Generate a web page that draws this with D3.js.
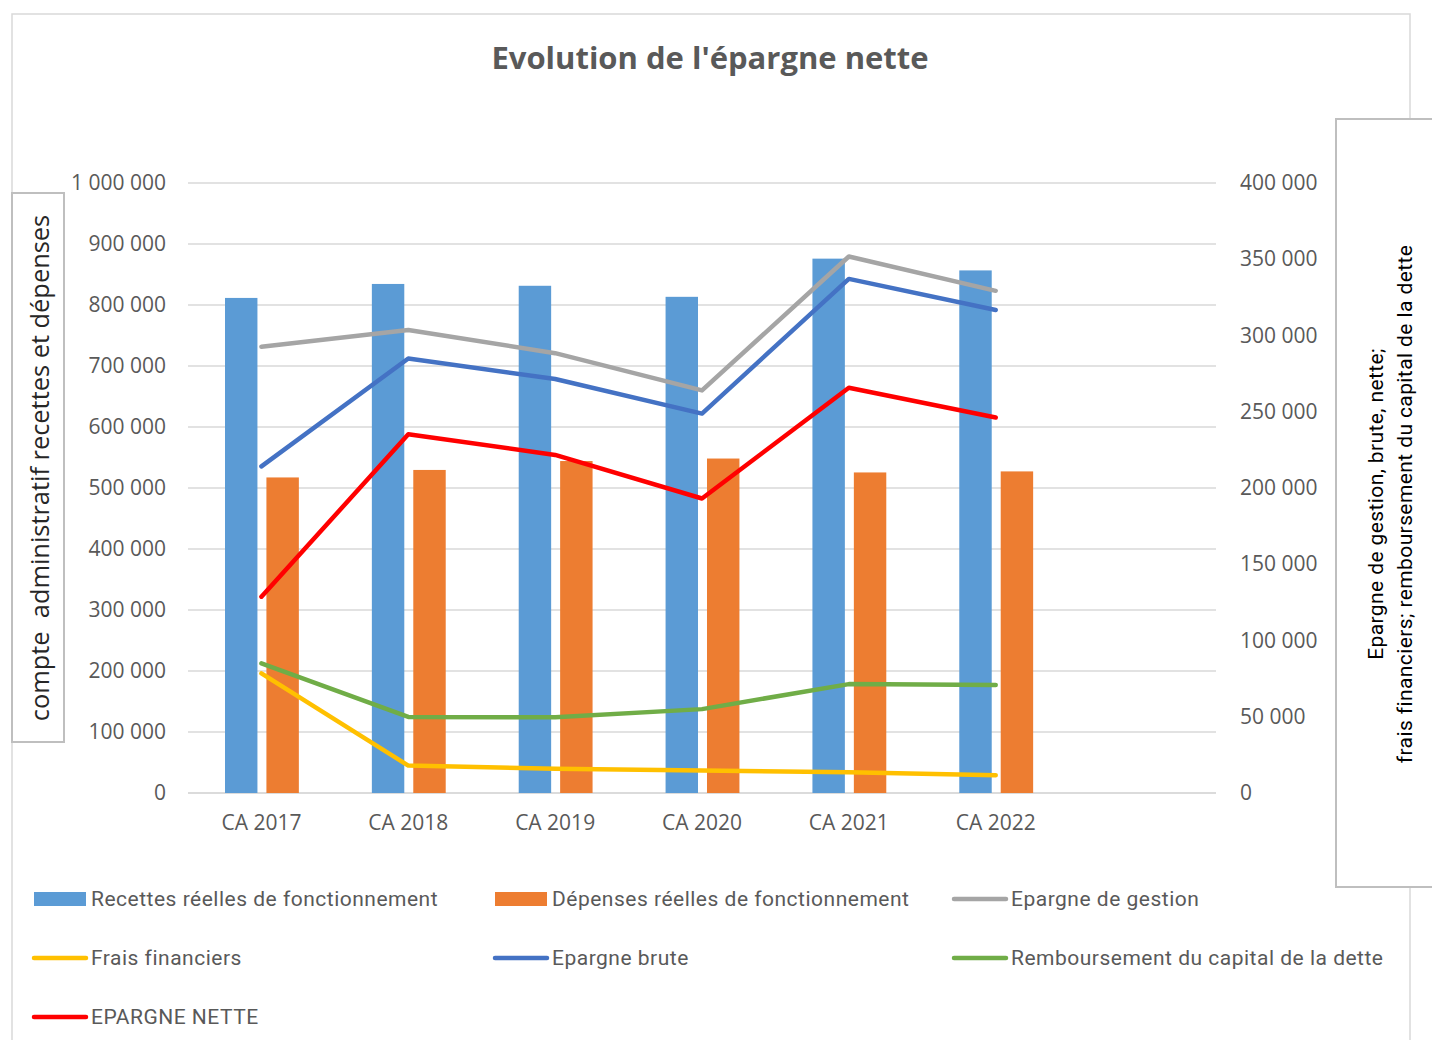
<!DOCTYPE html>
<html>
<head>
<meta charset="utf-8">
<script src="https://cdn.jsdelivr.net/npm/d3@7"></script>
<style>
  html, body { margin: 0; padding: 0; background: #fff; }
  svg { display: block; }
</style>
</head>
<body>
<svg id="chart" width="1432" height="1040"></svg>
<script>
// ---------------- DATA ----------------
const categories = ["CA 2017", "CA 2018", "CA 2019", "CA 2020", "CA 2021", "CA 2022"];
const recettes = [811600, 834500, 831500, 813400, 876000, 856700];
const depenses = [517300, 529600, 544200, 548300, 525500, 527200];
const epargneGestion = [292600, 303600, 288400, 264000, 351800, 329300];
const fraisFinanciers = [78400, 18000, 15900, 14700, 13600, 11700];
const epargneBrute = [214200, 284900, 271500, 248800, 337100, 316700];
const remboursement = [85000, 49900, 49600, 55000, 71400, 70900];
const epargneNette = [128700, 235200, 221700, 193100, 265700, 246200];
const leftTicks = [0, 100000, 200000, 300000, 400000, 500000, 600000, 700000, 800000, 900000, 1000000];
const rightTicks = [0, 50000, 100000, 150000, 200000, 250000, 300000, 350000, 400000];
const barSeries = ["Recettes réelles de fonctionnement", "Dépenses réelles de fonctionnement"];
const lineSeries = ["Epargne de gestion", "Frais financiers", "Epargne brute", "Remboursement du capital de la dette", "EPARGNE NETTE"];
const titleText = "Evolution de l'épargne nette";
const leftAxisTitle = "compte  administratif recettes et dépenses";
const rightAxisTitle = ["Epargne de gestion, brute, nette;", "frais financiers; remboursement du capital de la dette"];

// ---------------- STYLE ----------------
const barColors = ["#5B9BD5", "#ED7D31"];
const lineColors = ["#A5A5A5", "#FFC000", "#4472C4", "#70AD47", "#FF0000"];
const lineValues = [epargneGestion, fraisFinanciers, epargneBrute, remboursement, epargneNette];
const textGray = "#595959";

const plot = { left: 188, right: 1216, top: 183, bottom: 793 };
// Excel-like category axis: 7 slots, the last one empty
const slotCount = 7;
const plotCatRight = plot.left + (plot.right - plot.left) * categories.length / slotCount;

const svg = d3.select("#chart");
const fr = d3.formatLocale({ decimal: ",", thousands: "\u00a0", grouping: [3], currency: ["", " €"] });
const fmt = fr.format(",d");

// outer frame
svg.append("rect").attr("x", 12).attr("y", 14).attr("width", 1398).attr("height", 1100)
  .attr("fill", "#fff").attr("stroke", "#d9d9d9").attr("stroke-width", 1.5);

// title
svg.append("text").attr("x", 710).attr("y", 58).attr("dy", "0.35em")
  .attr("text-anchor", "middle").attr("font-family", "'Open Sans', sans-serif")
  .attr("font-weight", "bold").attr("font-size", 31).attr("fill", textGray).text(titleText);

// scales
const x = d3.scaleBand().domain(categories).range([plot.left, plotCatRight]).padding(0);
const x1 = d3.scaleBand().domain(barSeries).range([37, x.bandwidth() - 36]).paddingInner(0.217).paddingOuter(0);
const yL = d3.scaleLinear().domain([0, 1000000]).range([plot.bottom, plot.top]);
const yR = d3.scaleLinear().domain([0, 400000]).range([plot.bottom, plot.top]);

// gridlines
svg.append("g").selectAll("line").data(leftTicks).join("line")
  .attr("x1", plot.left).attr("x2", plot.right)
  .attr("y1", d => yL(d)).attr("y2", d => yL(d))
  .attr("stroke", "#d9d9d9").attr("stroke-width", 1.3);

const tickFont = g => g.selectAll("text").attr("font-family", "'Open Sans', sans-serif")
  .attr("font-size", 21).attr("fill", textGray);

// left axis
const gL = svg.append("g").attr("transform", `translate(${plot.left},0)`)
  .call(d3.axisLeft(yL).tickValues(leftTicks).tickFormat(fmt).tickSize(0).tickPadding(22));
gL.select(".domain").remove();
tickFont(gL);

// right axis
const gR = svg.append("g").attr("transform", `translate(${plot.right},0)`)
  .call(d3.axisRight(yR).tickValues(rightTicks).tickFormat(fmt).tickSize(0).tickPadding(24));
gR.select(".domain").remove();
tickFont(gR);

// x axis
const gX = svg.append("g").attr("transform", `translate(0,${plot.bottom})`)
  .call(d3.axisBottom(x).tickSize(0).tickPadding(22));
gX.select(".domain").remove();
tickFont(gX);
svg.append("line").attr("x1", plot.left).attr("x2", plot.right)
  .attr("y1", plot.bottom).attr("y2", plot.bottom).attr("stroke", "#d9d9d9").attr("stroke-width", 1.3);

// bars
const barData = [recettes, depenses];
barSeries.forEach((s, si) => {
  svg.append("g").selectAll("rect").data(categories).join("rect")
    .attr("x", (c) => x(c) + x1(s))
    .attr("width", x1.bandwidth())
    .attr("y", (c, i) => yL(barData[si][i]))
    .attr("height", (c, i) => yL(0) - yL(barData[si][i]))
    .attr("fill", barColors[si]);
});

// lines
const lineGen = d3.line().x((d, i) => x(categories[i]) + x.bandwidth() / 2).y(d => yR(d));
lineSeries.forEach((s, si) => {
  svg.append("path").datum(lineValues[si]).attr("d", lineGen)
    .attr("fill", "none").attr("stroke", lineColors[si]).attr("stroke-width", 4.5)
    .attr("stroke-linejoin", "round").attr("stroke-linecap", "round");
});

// left axis title box
svg.append("rect").attr("x", 12).attr("y", 193).attr("width", 52).attr("height", 549)
  .attr("fill", "#fff").attr("stroke", "#bfbfbf").attr("stroke-width", 2);
svg.append("text").attr("transform", "translate(40,468) rotate(-90)")
  .attr("text-anchor", "middle").attr("dy", "0.35em")
  .attr("font-family", "'Open Sans', sans-serif").attr("font-size", 25.4).attr("fill", "#262626")
  .attr("xml:space", "preserve").style("white-space", "pre").text(leftAxisTitle);

// right axis title box
svg.append("rect").attr("x", 1336).attr("y", 119).attr("width", 140).attr("height", 768)
  .attr("fill", "#fff").attr("stroke", "#bfbfbf").attr("stroke-width", 2);
rightAxisTitle.forEach((t, i) => {
  svg.append("text").attr("transform", `translate(${1376 + i * 29},504) rotate(-90)`)
    .attr("text-anchor", "middle").attr("dy", "0.35em")
    .attr("font-family", "Roboto, sans-serif").attr("font-size", 21).attr("letter-spacing", 0.4)
    .attr("fill", "#000").text(t);
});

// legend
const legendItems = [
  { name: barSeries[0], color: barColors[0], type: "bar" },
  { name: barSeries[1], color: barColors[1], type: "bar" },
  { name: lineSeries[0], color: lineColors[0], type: "line" },
  { name: lineSeries[1], color: lineColors[1], type: "line" },
  { name: lineSeries[2], color: lineColors[2], type: "line" },
  { name: lineSeries[3], color: lineColors[3], type: "line" },
  { name: lineSeries[4], color: lineColors[4], type: "line" }
];
const legCols = [34, 495, 954];
const legRows = [899, 958, 1017];
const lg = svg.append("g");
legendItems.forEach((it, i) => {
  const cx = legCols[i % 3], cy = legRows[Math.floor(i / 3)];
  if (it.type === "bar") {
    lg.append("rect").attr("x", cx).attr("y", cy - 7).attr("width", 52).attr("height", 14).attr("fill", it.color);
  } else {
    lg.append("line").attr("x1", cx).attr("x2", cx + 52).attr("y1", cy).attr("y2", cy)
      .attr("stroke", it.color).attr("stroke-width", 4.5).attr("stroke-linecap", "round");
  }
  lg.append("text").attr("x", cx + 57).attr("y", cy).attr("dy", "0.35em")
    .attr("font-family", "Roboto, sans-serif").attr("font-size", 21).attr("letter-spacing", 0.5)
    .attr("fill", textGray).text(it.name);
});
</script>
</body>
</html>
